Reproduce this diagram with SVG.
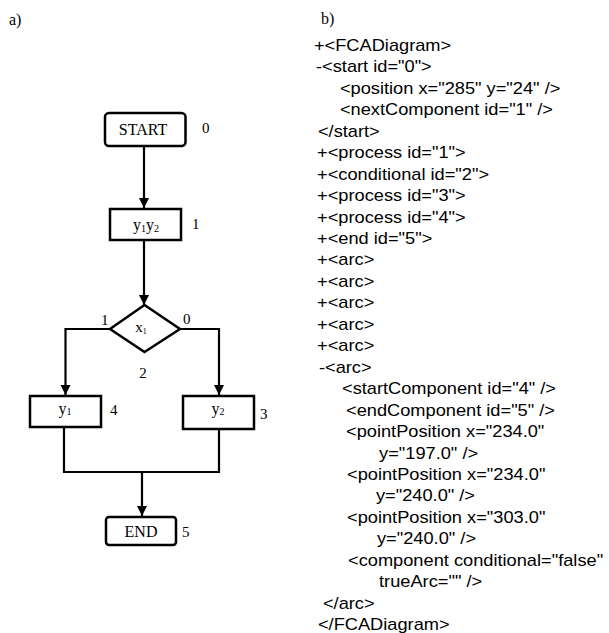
<svg xmlns="http://www.w3.org/2000/svg" width="609" height="633" viewBox="0 0 609 633">
<style>
.bx{fill:#fff;stroke:#000;stroke-width:2.5}
.cn{fill:none;stroke:#000;stroke-width:2.2}
.sf{font-family:"Liberation Serif","Times New Roman",serif;fill:#000}
.t16{font-size:16px}
.lb{font-size:15px}
.xml{font-family:"Liberation Sans",Arial,sans-serif;font-size:16px;fill:#000}
</style>
<defs>
<marker id="ah" markerUnits="userSpaceOnUse" markerWidth="12" markerHeight="12" refX="10" refY="5" orient="auto">
<path d="M0,0 L10,5 L0,10 Z" fill="#000"/>
</marker>
</defs>
<rect width="609" height="633" fill="#fff"/>
<text class="sf t16" x="9" y="25">a)</text>
<text class="sf t16" x="321" y="24">b)</text>

<g id="connectors">
<line class="cn" x1="144" y1="146" x2="144" y2="208" marker-end="url(#ah)"/>
<line class="cn" x1="144" y1="240" x2="144" y2="305" marker-end="url(#ah)"/>
<polyline class="cn" points="110,329 65.5,329 65.5,395" marker-end="url(#ah)"/>
<polyline class="cn" points="180,329 219,329 219,395" marker-end="url(#ah)"/>
<polyline class="cn" points="64,427 64,472 219,472 219,429"/>
<line class="cn" x1="142" y1="472" x2="142" y2="516" marker-end="url(#ah)"/>
</g>

<g id="n0">
<rect class="bx" x="105" y="113" width="80.5" height="33" rx="4"/>
<text class="sf t16" x="143" y="135" text-anchor="middle">START</text>
<text class="sf lb" x="202" y="133">0</text>
</g>
<g id="n1">
<rect class="bx" x="110" y="209" width="71" height="31"/>
<text class="sf t16" x="146" y="230" text-anchor="middle">y<tspan font-size="10" dy="2">1</tspan><tspan dy="-2">y</tspan><tspan font-size="10" dy="2">2</tspan></text>
<text class="sf lb" x="192" y="229">1</text>
</g>
<g id="n2">
<polygon class="bx" points="144.5,305 180,329 144.5,352 110,329"/>
<text class="sf" font-size="15" x="141" y="332" text-anchor="middle">x<tspan font-size="8" dy="2">1</tspan></text>
<text class="sf lb" x="101" y="325">1</text>
<text class="sf lb" x="183" y="324">0</text>
<text class="sf lb" x="143" y="378" text-anchor="middle">2</text>
</g>
<g id="n4">
<rect class="bx" x="30" y="396" width="71" height="31"/>
<text class="sf t16" x="65" y="414" text-anchor="middle">y<tspan font-size="10" dy="1">1</tspan></text>
<text class="sf lb" x="110" y="415">4</text>
</g>
<g id="n3">
<rect class="bx" x="183" y="396" width="71" height="33"/>
<text class="sf t16" x="218" y="414" text-anchor="middle">y<tspan font-size="10" dy="1">2</tspan></text>
<text class="sf lb" x="260" y="419">3</text>
</g>
<g id="n5">
<rect class="bx" x="106" y="517" width="70" height="28" rx="3"/>
<text class="sf t16" x="141" y="537" text-anchor="middle">END</text>
<text class="sf lb" x="182" y="537">5</text>
</g>

<g id="xml" class="xml" transform="scale(1.14,1)">
<text x="275.4" y="51">+&lt;FCADiagram&gt;</text>
<text x="277.2" y="72.5">-&lt;start id="0"&gt;</text>
<text x="298.2" y="94">&lt;position x="285" y="24" /&gt;</text>
<text x="298.2" y="115.4">&lt;nextComponent id="1" /&gt;</text>
<text x="278.9" y="136.8">&lt;/start&gt;</text>
<text x="278.1" y="158.3">+&lt;process id="1"&gt;</text>
<text x="278.1" y="179.7">+&lt;conditional id="2"&gt;</text>
<text x="278.1" y="201.2">+&lt;process id="3"&gt;</text>
<text x="278.1" y="222.6">+&lt;process id="4"&gt;</text>
<text x="278.1" y="244">+&lt;end id="5"&gt;</text>
<text x="278.1" y="265.5">+&lt;arc&gt;</text>
<text x="278.1" y="287">+&lt;arc&gt;</text>
<text x="278.1" y="308.4">+&lt;arc&gt;</text>
<text x="278.1" y="329.9">+&lt;arc&gt;</text>
<text x="278.1" y="351.3">+&lt;arc&gt;</text>
<text x="279.8" y="372.8">-&lt;arc&gt;</text>
<text x="300" y="394.2">&lt;startComponent id="4" /&gt;</text>
<text x="303.5" y="415.7">&lt;endComponent id="5" /&gt;</text>
<text x="303.5" y="437.1">&lt;pointPosition x="234.0"</text>
<text x="332.5" y="458.6">y="197.0" /&gt;</text>
<text x="304.4" y="480">&lt;pointPosition x="234.0"</text>
<text x="329.8" y="501.5">y="240.0" /&gt;</text>
<text x="304.4" y="522.9">&lt;pointPosition x="303.0"</text>
<text x="330.7" y="544.4">y="240.0" /&gt;</text>
<text x="305.3" y="565.8">&lt;component conditional="false"</text>
<text x="332.5" y="587.2">trueArc="" /&gt;</text>
<text x="283.3" y="608.7">&lt;/arc&gt;</text>
<text x="278.9" y="630.1">&lt;/FCADiagram&gt;</text>
</g>
</svg>
